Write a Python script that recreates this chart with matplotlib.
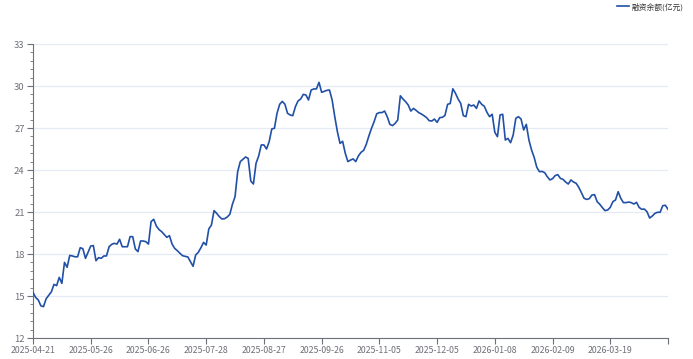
import numpy as np
import matplotlib
matplotlib.use("Agg")
from matplotlib import pyplot as plt
from matplotlib.ticker import MultipleLocator, FixedLocator

plt.rcParams['font.family'] = ['Noto Sans CJK SC', 'DejaVu Sans']

# 融资余额(亿元), one value per trading day from 2025-04-21
balance = [
    15.25, 14.90, 14.72, 14.30, 14.24, 14.80, 15.05, 15.30, 15.83, 15.74,
    16.33, 15.90, 17.40, 17.05, 17.90, 17.86, 17.80, 17.80, 18.45, 18.38,
    17.69, 18.14, 18.57, 18.60, 17.52, 17.74, 17.69, 17.86, 17.86, 18.52,
    18.69, 18.76, 18.71, 19.05, 18.52, 18.52, 18.52, 19.24, 19.24, 18.36,
    18.17, 18.93, 18.93, 18.88, 18.71, 20.31, 20.48, 20.00, 19.75, 19.60,
    19.40, 19.19, 19.31, 18.71, 18.40, 18.24, 18.05, 17.88, 17.83, 17.79,
    17.45, 17.12, 17.93, 18.12, 18.45, 18.83, 18.64, 19.79, 20.07, 21.10,
    20.90, 20.67, 20.50, 20.52, 20.64, 20.83, 21.55, 22.10, 23.88, 24.60,
    24.76, 24.93, 24.83, 23.21, 23.00, 24.48, 25.00, 25.79, 25.79, 25.50,
    26.02, 26.93, 26.98, 28.05, 28.69, 28.90, 28.70, 28.05, 27.93, 27.88,
    28.52, 28.93, 29.07, 29.40, 29.36, 29.00, 29.71, 29.79, 29.79, 30.26,
    29.55, 29.62, 29.69, 29.71, 29.00, 27.81, 26.74, 25.90, 26.05, 25.20,
    24.60, 24.71, 24.79, 24.60, 25.00, 25.26, 25.40, 25.83, 26.43, 26.98,
    27.45, 28.02, 28.10, 28.10, 28.21, 27.81, 27.26, 27.17, 27.33, 27.57,
    29.30, 29.07, 28.88, 28.64, 28.21, 28.40, 28.26, 28.10, 28.00, 27.88,
    27.74, 27.52, 27.50, 27.64, 27.40, 27.74, 27.76, 27.90, 28.69, 28.75,
    29.80, 29.48, 29.07, 28.76, 27.88, 27.81, 28.69, 28.57, 28.64, 28.40,
    28.93, 28.69, 28.55, 28.12, 27.81, 27.98, 26.69, 26.38, 27.93, 27.98,
    26.14, 26.26, 25.95, 26.50, 27.69, 27.81, 27.64, 26.86, 27.26, 26.14,
    25.43, 24.90, 24.19, 23.88, 23.90, 23.81, 23.52, 23.29, 23.38, 23.60,
    23.67, 23.40, 23.33, 23.14, 23.00, 23.29, 23.14, 23.05, 22.76, 22.38,
    21.98, 21.90, 21.95, 22.21, 22.24, 21.74, 21.55, 21.31, 21.10, 21.14,
    21.33, 21.74, 21.86, 22.45, 21.98, 21.67, 21.67, 21.71, 21.67, 21.57,
    21.69, 21.33, 21.19, 21.21, 21.02, 20.57, 20.71, 20.90, 20.98, 20.98,
    21.45, 21.48, 21.19,
]

# labels shown every 22 trading days
date_labels = ["2025-04-21", "2025-05-26", "2025-06-26", "2025-07-28",
               "2025-08-27", "2025-09-26", "2025-11-05", "2025-12-05",
               "2026-01-08", "2026-02-09", "2026-03-19", ""]
label_step = 22

series_name = "融资余额(亿元)"
line_color = "#2150a6"
axis_color = "#6e7079"
grid_color = "#e6eaf4"

fig = plt.figure(figsize=(6.93, 3.59), dpi=100)
ax = fig.add_axes([33 / 693, 21 / 359, 635 / 693, 294 / 359])

x = np.arange(len(balance))
ax.plot(x, balance, color=line_color, linewidth=1.2, label=series_name, zorder=3)

ax.set_xlim(0, len(balance) - 1)
ax.set_ylim(12, 33)

ax.yaxis.set_major_locator(MultipleLocator(3))
ax.yaxis.set_minor_locator(MultipleLocator(0.6))
ax.xaxis.set_major_locator(FixedLocator(np.arange(0, len(balance), label_step)))
ax.set_xticklabels(date_labels)

ax.grid(axis='y', which='major', color=grid_color, linewidth=0.9, zorder=0)
ax.grid(axis='x', visible=False)

for side in ['top', 'right']:
    ax.spines[side].set_visible(False)
for side in ['left', 'bottom']:
    ax.spines[side].set_color(axis_color)
    ax.spines[side].set_linewidth(0.8)

ax.tick_params(axis='y', which='major', length=4, width=0.8, color=axis_color,
               labelcolor=axis_color, labelsize=6.8, pad=2)
ax.tick_params(axis='y', which='minor', length=2.5, width=0.6, color=axis_color)
ax.tick_params(axis='x', which='major', length=4, width=0.8, color=axis_color,
               labelcolor=axis_color, labelsize=6.3, pad=2)

fig.legend(loc='upper right', bbox_to_anchor=(0.997, 1.012), frameon=False,
           fontsize=5.6, labelcolor='#333333', handlelength=1.5, handletextpad=0.4)

fig.savefig("out.png", dpi=100, facecolor='white')
